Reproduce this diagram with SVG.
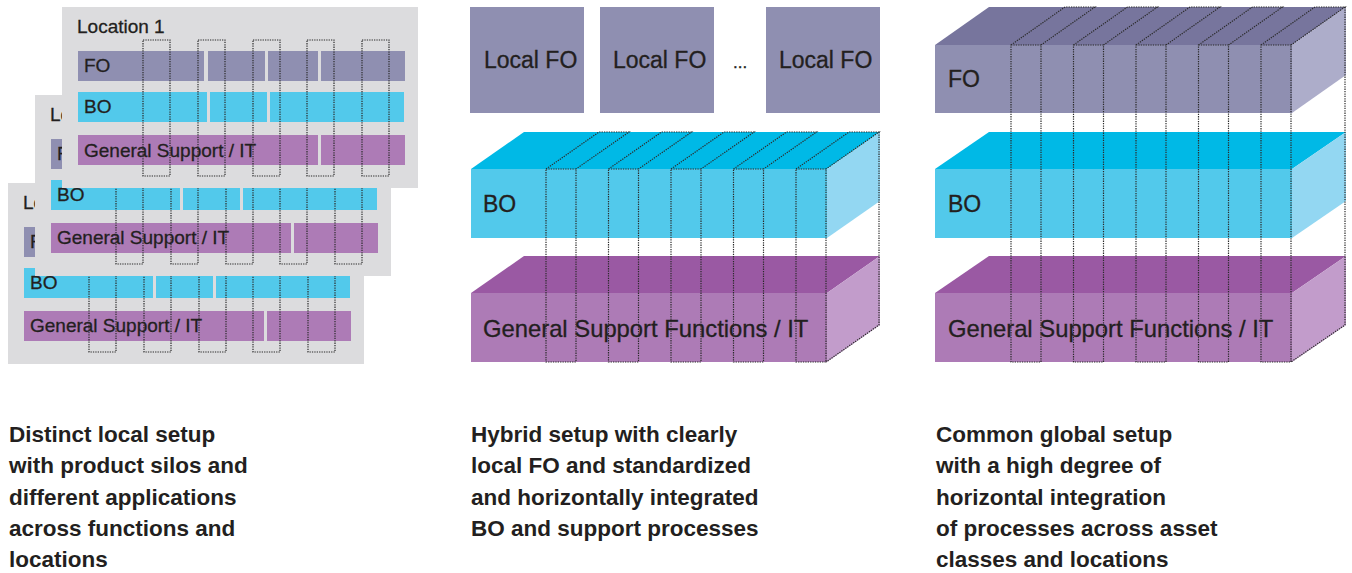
<svg xmlns="http://www.w3.org/2000/svg" xmlns:xlink="http://www.w3.org/1999/xlink" width="1352" height="573" viewBox="0 0 1352 573">
  <style>
    .card { fill: #dcdcde; }
    .fo { fill: #8f8fb1; }
    .bo { fill: #52c9eb; }
    .gs { fill: #ad7bb6; }
    .fo-top { fill: #77759d; }
    .fo-side { fill: #adadca; }
    .bo-top { fill: #00b9e6; }
    .bo-side { fill: #93d7f2; }
    .gs-top { fill: #9a59a3; }
    .gs-side { fill: #c29ccb; }
    .dot { fill: none; stroke: #2b2b2b; stroke-width: 1.2; stroke-dasharray: 1.3 1.1; }
    text { font-family: "Liberation Sans", Arial, sans-serif; fill: #231f20; }
    .lbl-s, .lbl-l { stroke: #231f20; stroke-width: 0.3; }
    .lbl-s { font-size: 19px; }
    .lbl-l { font-size: 23px; }
    .lbl-w { font-size: 23.8px; }
    .cap { font-size: 22.5px; font-weight: bold; }
  </style>
  <defs>
    <!-- one location card: background and function bars -->
    <g id="card-base">
      <rect class="card" x="62" y="7" width="356" height="181"/>
      <rect class="fo" x="78" y="51" width="126" height="30"/>
      <rect class="fo" x="208" y="51" width="57" height="30"/>
      <rect class="fo" x="268" y="51" width="50" height="30"/>
      <rect class="fo" x="321" y="51" width="84" height="30"/>
      <rect class="bo" x="78" y="92" width="129" height="30"/>
      <rect class="bo" x="210" y="92" width="57" height="30"/>
      <rect class="bo" x="270" y="92" width="134" height="30"/>
      <rect class="gs" x="78" y="135" width="240" height="30"/>
      <rect class="gs" x="321" y="135" width="84" height="30"/>
    </g>
    <!-- product silos of one card -->
    <g id="card-silos" class="dot">
      <rect x="143" y="40" width="27" height="136"/>
      <rect x="198" y="40" width="27" height="136"/>
      <rect x="253" y="40" width="27" height="136"/>
      <rect x="307" y="40" width="27" height="136"/>
      <rect x="362" y="40" width="27" height="136"/>
    </g>
    <!-- vertical integration column, hybrid setup -->
    <path id="col-mid" class="dot" d="M0,169 H30 V362 H0 Z M0,169 L53,132 H83 L30,169"/>
    <!-- vertical integration column, global setup -->
    <path id="col-right" class="dot" d="M0,45 H30 V362 H0 Z M0,45 L54,7 H84 L30,45"/>
  </defs>

  <!-- Distinct local setup: stacked location cards -->
  <g id="location-3">
    <use xlink:href="#card-base" href="#card-base" transform="translate(-54 176)"/>
    <text class="lbl-s" x="23" y="209">Lo</text>
    <text class="lbl-s" x="30" y="248">F</text>
    <text class="lbl-s" x="30" y="289">BO</text>
    <text class="lbl-s" x="30" y="332">General Support / IT</text>
    <use xlink:href="#card-silos" href="#card-silos" transform="translate(-54 176)"/>
  </g>
  <g id="location-2">
    <use xlink:href="#card-base" href="#card-base" transform="translate(-27 88)"/>
    <text class="lbl-s" x="50" y="121">Lo</text>
    <text class="lbl-s" x="57" y="160">F</text>
    <text class="lbl-s" x="57" y="201">BO</text>
    <text class="lbl-s" x="57" y="244">General Support / IT</text>
    <use xlink:href="#card-silos" href="#card-silos" transform="translate(-27 88)"/>
  </g>
  <g id="location-1">
    <use xlink:href="#card-base" href="#card-base"/>
    <text class="lbl-s" x="77" y="33">Location 1</text>
    <text class="lbl-s" x="84" y="72">FO</text>
    <text class="lbl-s" x="84" y="113">BO</text>
    <text class="lbl-s" x="84" y="157">General Support / IT</text>
    <use xlink:href="#card-silos" href="#card-silos"/>
  </g>

  <!-- Hybrid setup -->
  <g id="local-fo-1">
    <rect class="fo" x="470" y="7" width="114" height="106"/>
    <text class="lbl-l" x="484" y="68">Local FO</text>
  </g>
  <g id="local-fo-2">
    <rect class="fo" x="600" y="7" width="114" height="106"/>
    <text class="lbl-l" x="613" y="68">Local FO</text>
  </g>
  <text class="lbl-l" x="733" y="68" style="font-size:17px">...</text>
  <g id="local-fo-n">
    <rect class="fo" x="766" y="7" width="114" height="106"/>
    <text class="lbl-l" x="779" y="68">Local FO</text>
  </g>
  <g id="hybrid-bo">
    <rect class="bo" x="471" y="169" width="356" height="69"/>
    <polygon class="bo-top" points="471,169 524,132 880,132 827,169"/>
    <polygon class="bo-side" points="827,169 880,132 880,201 827,238"/>
    <text class="lbl-l" x="483" y="212">BO</text>
  </g>
  <g id="hybrid-gs">
    <rect class="gs" x="471" y="293" width="356" height="69"/>
    <polygon class="gs-top" points="471,293 524,256 880,256 827,293"/>
    <polygon class="gs-side" points="827,293 880,256 880,325 827,362"/>
    <text class="lbl-l lbl-w" x="483" y="337">General Support Functions / IT</text>
  </g>

  <!-- Common global setup -->
  <g id="global-fo">
    <rect class="fo" x="935" y="45" width="357" height="68"/>
    <polygon class="fo-top" points="935,45 989,7 1346,7 1292,45"/>
    <polygon class="fo-side" points="1292,45 1346,7 1346,75 1292,113"/>
    <text class="lbl-l" x="948" y="87">FO</text>
  </g>
  <g id="global-bo">
    <rect class="bo" x="935" y="169" width="357" height="69"/>
    <polygon class="bo-top" points="935,169 989,132 1346,132 1292,169"/>
    <polygon class="bo-side" points="1292,169 1346,132 1346,201 1292,238"/>
    <text class="lbl-l" x="948" y="212">BO</text>
  </g>
  <g id="global-gs">
    <rect class="gs" x="935" y="293" width="357" height="69"/>
    <polygon class="gs-top" points="935,293 989,256 1346,256 1292,293"/>
    <polygon class="gs-side" points="1292,293 1346,256 1346,325 1292,362"/>
    <text class="lbl-l lbl-w" x="948" y="337">General Support Functions / IT</text>
  </g>

  <!-- integration columns crossing the layers -->
  <g id="connectors">
    <use xlink:href="#col-mid" href="#col-mid" transform="translate(546 0)"/>
    <use xlink:href="#col-mid" href="#col-mid" transform="translate(608.5 0)"/>
    <use xlink:href="#col-mid" href="#col-mid" transform="translate(671 0)"/>
    <use xlink:href="#col-mid" href="#col-mid" transform="translate(733.5 0)"/>
    <use xlink:href="#col-mid" href="#col-mid" transform="translate(796 0)"/>
    <path class="dot" d="M879,132 V325 L826,362"/>
    <use xlink:href="#col-right" href="#col-right" transform="translate(1011 0)"/>
    <use xlink:href="#col-right" href="#col-right" transform="translate(1073.5 0)"/>
    <use xlink:href="#col-right" href="#col-right" transform="translate(1136 0)"/>
    <use xlink:href="#col-right" href="#col-right" transform="translate(1198.5 0)"/>
    <use xlink:href="#col-right" href="#col-right" transform="translate(1261 0)"/>
    <path class="dot" d="M1345,7 V325 L1291,362"/>
  </g>

  <!-- captions -->
  <g id="caption-local">
    <text class="cap" x="9" y="442">Distinct local setup</text>
    <text class="cap" x="9" y="473">with product silos and</text>
    <text class="cap" x="9" y="504.5">different applications</text>
    <text class="cap" x="9" y="535.5">across functions and</text>
    <text class="cap" x="9" y="567">locations</text>
  </g>
  <g id="caption-hybrid">
    <text class="cap" x="471" y="442">Hybrid setup with clearly</text>
    <text class="cap" x="471" y="473">local FO and standardized</text>
    <text class="cap" x="471" y="504.5">and horizontally integrated</text>
    <text class="cap" x="471" y="535.5">BO and support processes</text>
  </g>
  <g id="caption-global">
    <text class="cap" x="936" y="442">Common global setup</text>
    <text class="cap" x="936" y="473">with a high degree of</text>
    <text class="cap" x="936" y="504.5">horizontal integration</text>
    <text class="cap" x="936" y="535.5">of processes across asset</text>
    <text class="cap" x="936" y="567">classes and locations</text>
  </g>
</svg>
